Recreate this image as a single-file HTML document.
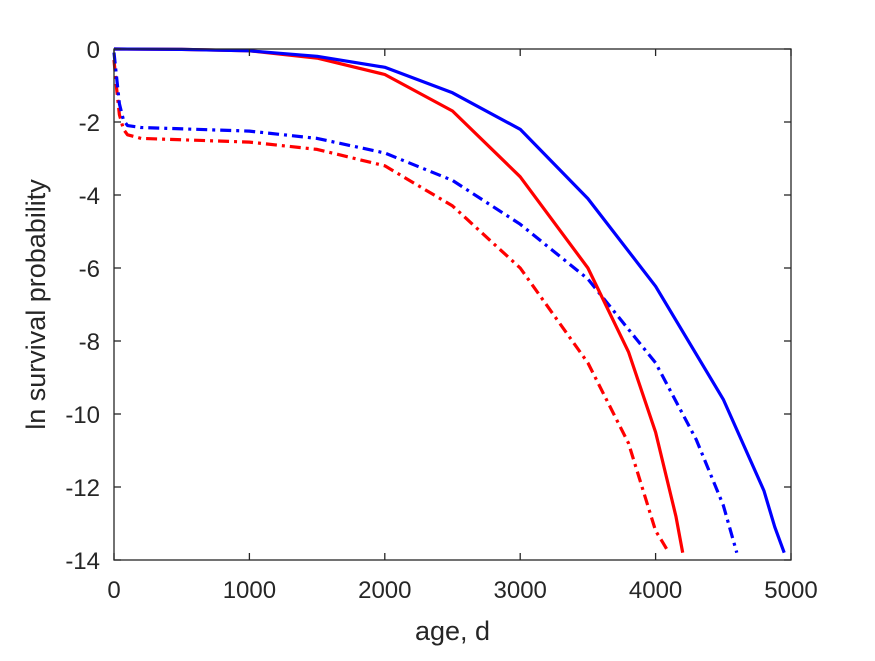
<!DOCTYPE html>
<html><head><meta charset="utf-8"><style>
body{margin:0;background:#fff}
svg text{font-family:"Liberation Sans",sans-serif;fill:#262626}
</style></head><body>
<svg width="875" height="656" xmlns="http://www.w3.org/2000/svg">
<rect x="0" y="0" width="875" height="656" fill="#fff"/>
<g id="plot"></g>
</svg>
<script>
const xTicks=[0,1000,2000,3000,4000,5000];
const yTicks=[0,-2,-4,-6,-8,-10,-12,-14];
const blueSolidX=[0,500,1000,1500,2000,2500,3000,3500,4000,4500,4800,4880,4950];
const blueSolidY=[0,-0.01,-0.05,-0.2,-0.5,-1.2,-2.2,-4.1,-6.5,-9.6,-12.1,-13.1,-13.8];
const redSolidX=[0,500,1000,1500,2000,2500,3000,3500,3800,4000,4150,4200];
const redSolidY=[0,-0.01,-0.05,-0.25,-0.7,-1.7,-3.5,-6.0,-8.3,-10.5,-12.8,-13.8];
const blueDashX=[0,20,40,70,100,200,1000,1500,2000,2500,3000,3500,4000,4300,4500,4600];
const blueDashY=[-0.1,-0.8,-1.5,-1.95,-2.1,-2.15,-2.25,-2.45,-2.85,-3.6,-4.8,-6.3,-8.6,-10.7,-12.5,-13.8];
const redDashX=[0,20,40,70,100,200,1000,1500,2000,2500,3000,3500,3800,4000,4050,4090];
const redDashY=[-0.3,-1.1,-1.8,-2.2,-2.35,-2.45,-2.55,-2.75,-3.2,-4.3,-6.0,-8.6,-10.8,-13.2,-13.5,-13.75];

const L=114,R=791,T=49,B=560;
const sx=v=>L+(v-0)/5000*(R-L);
const sy=v=>T+(0-v)/14*(B-T);
const NS="http://www.w3.org/2000/svg";
const g=document.getElementById('plot');
function mk(tag,attrs){const e=document.createElementNS(NS,tag);for(const k in attrs)e.setAttribute(k,attrs[k]);g.appendChild(e);return e;}

function line(xs,ys,color,dash,name){
  const d=xs.map((x,i)=>(i?'L':'M')+sx(x).toFixed(1)+','+sy(ys[i]).toFixed(1)).join(' ');
  const p=mk('path',{d:d,fill:'none',stroke:color,'stroke-width':3.2,'stroke-linejoin':'round'});
  if(dash)p.setAttribute('stroke-dasharray',dash);
  
  
}
line(redDashX,redDashY,'#ff0000','11 5 3 5','red-dashdot-line');
line(blueDashX,blueDashY,'#0000ff','11 5 3 5','blue-dashdot-line');
line(redSolidX,redSolidY,'#ff0000','','red-solid-line');
line(blueSolidX,blueSolidY,'#0000ff','','blue-solid-line');

const box=mk('rect',{x:L,y:T,width:R-L,height:B-T,fill:'none',stroke:'#262626','stroke-width':1.3});



xTicks.forEach(v=>{
  const x=sx(v);
  mk('line',{x1:x,y1:B,x2:x,y2:B-7,stroke:'#262626','stroke-width':1.3});
  mk('line',{x1:x,y1:T,x2:x,y2:T+7,stroke:'#262626','stroke-width':1.3});
  const t=mk('text',{x:x,y:B+38,'text-anchor':'middle','font-size':24});
  t.textContent=v;
  
  
});
yTicks.forEach(v=>{
  const y=sy(v);
  mk('line',{x1:L,y1:y,x2:L+7,y2:y,stroke:'#262626','stroke-width':1.3});
  mk('line',{x1:R,y1:y,x2:R-7,y2:y,stroke:'#262626','stroke-width':1.3});
  const t=mk('text',{x:L-14,y:y+9,'text-anchor':'end','font-size':24});
  t.textContent=v;
  
  
});
const xt=mk('text',{x:(L+R)/2,y:640,'text-anchor':'middle','font-size':27});
xt.textContent='age, d';


const yt=mk('text',{x:0,y:0,'text-anchor':'middle','font-size':27,transform:'translate(45,'+((T+B)/2)+') rotate(-90)'});
yt.textContent='ln survival probability';


</script>
</body></html>
